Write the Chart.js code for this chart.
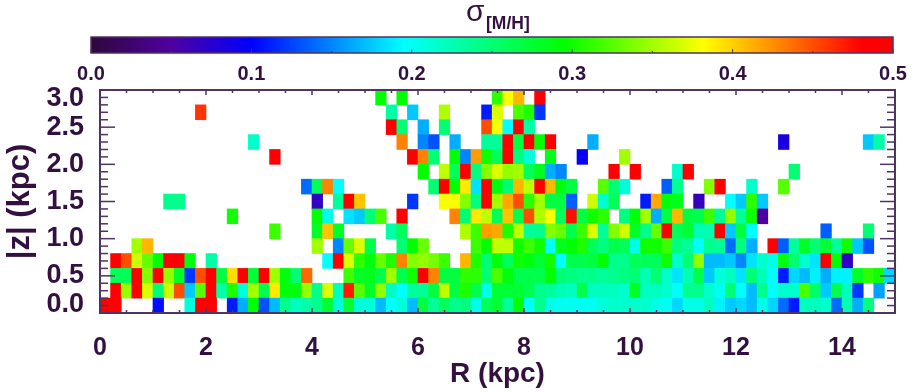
<!DOCTYPE html>
<html>
<head>
<meta charset="utf-8">
<title>sigma [M/H] map</title>
<script src="https://cdn.jsdelivr.net/npm/chart.js@4"></script>
<style>
    html, body { margin: 0; padding: 0; background: #fff; }
    #wrap { position: relative; width: 913px; height: 392px; overflow: hidden; }
    canvas { position: absolute; left: 0; top: 0; filter: blur(0.4px); }
</style>
</head>
<body>
<div id="wrap">
    <canvas id="map-chart" width="913" height="392"></canvas>
    <canvas id="bar-chart" width="913" height="85"></canvas>
</div>
<script>
const _ = null;

// Bins
const rBinCount = 75;
const rBinWidth = 0.2;
const zBinEdges = [0, 0.2, 0.4, 0.6, 0.8, 1, 1.2, 1.4, 1.6, 1.8, 2, 2.2, 2.4, 2.6, 2.8, 3];

// Ticks
const rTickLabels = [0, 2, 4, 6, 8, 10, 12, 14];
const rMinorTicks = [0.5, 1, 1.5, 2.5, 3, 3.5, 4.5, 5, 5.5, 6.5, 7, 7.5, 8.5, 9, 9.5, 10.5, 11, 11.5, 12.5, 13, 13.5, 14.5];
const zTickLabels = [0, 0.5, 1, 1.5, 2, 2.5, 3];
const zMinorTicks = [0.1, 0.2, 0.3, 0.4, 0.6, 0.7, 0.8, 0.9, 1.1, 1.2, 1.3, 1.4, 1.6, 1.7, 1.8, 1.9, 2.1, 2.2, 2.3, 2.4, 2.6, 2.7, 2.8, 2.9];
const sigmaTickLabels = [0, 0.1, 0.2, 0.3, 0.4, 0.5];
const sigmaMinorTicks = [0.05, 0.15, 0.25, 0.35, 0.45];

// Colour table
const sigmaStops = [0, 0.05, 0.1, 0.195, 0.295, 0.382, 0.48, 0.5];
const stopColors = [[46, 8, 58], [80, 0, 160], [0, 0, 255], [0, 255, 255], [0, 255, 0], [255, 255, 0], [255, 0, 0], [255, 0, 0]];

// sigma values, one list per z bin, bottom row first
const zBin00 = [
    .48,.48,_,_,_,.105,_,_,.21,.48,.48,_,.11,.165,.295,.13,.17,.24,.22,.23,.24,.275,.21,.275,.21,
    .21,.17,.195,.21,.17,.27,.235,.26,.24,.245,.205,.26,.275,.235,.295,.195,.24,.205,.2,.2,.2,.2,.21,.215,.215,
    .215,.215,.205,.2,.18,.205,.205,.22,.19,.175,.18,.17,.205,.18,.14,.11,.22,.22,.215,.14,.225,.165,.245,_,_];
const zBin01 = [
    _,.48,.345,.48,.37,.25,.365,.45,.175,.325,.48,.23,.305,.21,.35,.265,.39,.29,.29,.345,.24,.37,.22,.47,.325,
    .28,.345,.22,.195,.235,.235,.27,.36,.27,.305,.265,.205,.275,.275,.275,.265,.24,.235,.225,.22,.265,.22,.22,.22,.215,
    .28,.22,.22,.215,.195,.24,.24,.215,.2,.25,.195,.17,.24,.195,.215,.215,.32,.255,.175,.265,.22,.12,_,.16,_];
const zBin02 = [
    _,.26,.26,.48,.34,.48,.345,.28,.12,.45,.48,.27,.395,.48,.275,.48,.35,.29,.25,.44,_,_,_,.315,.28,
    .285,.265,.35,.265,.3,.48,.43,.27,.27,.31,.31,.25,.32,.29,.265,.265,.265,.295,.25,.245,.24,.24,.235,.24,.245,
    .25,.225,.25,.215,.185,.225,.265,.175,.21,.22,.185,.25,.22,.195,.11,.18,.17,.19,.165,.19,.19,.28,.31,.3,.18];
const zBin03 = [
    _,.48,.45,.365,.33,.295,.48,.48,.29,_,.23,_,_,_,_,_,_,_,_,_,_,.195,.48,.37,.31,
    .29,.33,.305,.43,.34,.345,.335,.315,_,.41,.305,.25,.29,.26,.3,.29,.275,.3,.195,.265,.265,.27,.295,.24,.24,
    .26,.26,.26,.3,.215,.25,.345,.17,.17,.175,.15,.185,.215,.205,.29,.25,.215,.185,.48,.295,.07,_,_,_,_];
const zBin04 = [
    _,_,_,.35,.41,_,_,_,_,_,_,_,_,_,_,_,_,_,_,_,.35,_,.15,.33,.37,
    .265,_,_,.25,.295,.33,_,_,_,_,.315,.295,.36,.36,.3,.315,.3,.195,.285,.295,.305,.26,.245,.265,.26,
    .205,.3,.3,.315,.245,.235,.195,.24,.235,.14,.245,.165,_,.48,.135,.235,.28,.25,.275,.235,.3,.175,.13,_,_];
const zBin05 = [
    _,_,_,_,_,_,_,_,_,_,_,_,_,_,_,_,.315,_,_,_,.28,.405,.28,_,_,
    _,_,.23,.26,_,_,_,_,_,.355,.315,.42,.415,.305,.36,.235,.24,.34,.33,.265,.315,.37,.235,.34,.365,
    .28,.24,.33,.48,.26,.275,.225,.225,.48,.175,.27,.195,_,_,_,_,_,_,.135,_,_,_,.25,_,_];
const zBin06 = [
    _,_,_,_,_,_,_,_,_,_,_,_,.3,_,_,_,_,_,_,_,.295,.205,_,.185,.175,
    .25,.32,_,.48,_,_,_,_,.43,.25,.39,.36,.26,.405,.265,.45,.355,.38,.26,.475,.27,.3,.31,_,.245,
    .29,.35,.165,.27,.41,.27,.265,.315,.235,.345,.235,.3,.05,_,_,_,_,_,_,_,_,_,_,_,_];
const zBin07 = [
    _,_,_,_,_,_,.24,.24,_,_,_,_,_,_,_,_,_,_,_,_,.07,_,.235,.48,.405,
    _,_,_,_,.12,_,_,.38,.38,.34,.245,.48,.35,.415,.45,.31,.35,.27,.27,.135,_,.365,.215,.26,_,
    _,.11,.415,.29,.285,_,.065,_,_,.195,.175,.31,.175,_,_,_,_,_,_,_,_,_,_,_,_];
const zBin08 = [
    _,_,_,_,_,_,_,_,_,_,_,_,_,_,_,_,_,_,_,.14,.26,.43,.195,_,_,
    _,_,_,_,_,_,.25,.48,.295,.39,.185,.48,.29,.25,.41,.36,.48,.41,.29,.27,_,_,.325,.25,.21,
    _,_,_,.135,.24,_,_,.34,.48,_,_,.215,_,_,.325,_,_,_,_,_,_,_,_,_,_];
const zBin09 = [
    _,_,_,_,_,_,_,_,_,_,_,_,_,_,_,_,_,_,_,_,_,_,_,_,_,
    _,_,_,_,_,.295,_,.36,.26,.48,.245,.34,.37,.345,.35,.26,.285,.165,.15,_,_,_,_,.48,_,
    .48,_,_,_,.215,.48,_,_,_,_,_,_,_,_,_,.25,_,_,_,_,_,_,_,_,_];
const zBin10 = [
    _,_,_,_,_,_,_,_,_,_,_,_,_,_,_,_,.48,_,_,_,_,_,_,_,_,
    _,_,_,_,.48,.43,.25,_,.295,.15,.42,.3,.26,.48,.245,.21,_,.285,_,_,.095,_,_,_,.35,
    _,_,_,_,_,_,_,_,_,_,_,_,_,_,_,_,_,_,_,_,_,_,_,_,_];
const zBin11 = [
    _,_,_,_,_,_,_,_,_,_,_,_,_,_,.215,_,_,_,_,_,_,_,_,_,_,
    _,_,_,.43,_,.15,.13,_,.165,_,_,.235,.235,.48,.27,.48,.295,.48,_,_,_,.165,_,_,_,
    _,_,_,_,_,_,_,_,_,_,_,_,_,_,.085,_,_,_,_,_,_,_,.175,.23,_];
const zBin12 = [
    _,_,_,_,_,_,_,_,_,_,_,_,_,_,_,_,_,_,_,_,_,_,_,_,_,
    _,_,.48,.25,_,.165,_,.25,_,_,_,.45,.38,.195,.48,.23,_,_,_,_,_,_,_,_,_,
    _,_,_,_,_,_,_,_,_,_,_,_,_,_,_,_,_,_,_,_,_,_,_,_,_];
const zBin13 = [
    _,_,_,_,_,_,_,_,_,.46,_,_,_,_,_,_,_,_,_,_,_,_,_,_,_,
    _,_,.23,_,.175,_,_,.355,_,_,_,.11,.37,_,.32,.305,.12,_,_,_,_,_,_,_,_,
    _,_,_,_,_,_,_,_,_,_,_,_,_,_,_,_,_,_,_,_,_,_,_,_,_];
const zBin14 = [
    _,_,_,_,_,_,_,_,_,_,_,_,_,_,_,_,_,_,_,_,_,_,_,_,_,
    _,.295,_,.295,_,_,_,_,_,_,_,_,.31,.38,.41,_,.48,_,_,_,_,_,_,_,_,
    _,_,_,_,_,_,_,_,_,_,_,_,_,_,_,_,_,_,_,_,_,_,_,_,_];
const zBins = [zBin00, zBin01, zBin02, zBin03, zBin04, zBin05, zBin06, zBin07, zBin08, zBin09, zBin10, zBin11, zBin12, zBin13, zBin14];

const inkColor = '#32103f';
const frameColor = '#4f3360';
const labelFont = "'Liberation Sans', Arial, sans-serif";

function sigmaColor(value) {
    let i = 0;
    while (i < sigmaStops.length - 2 && value > sigmaStops[i + 1]) i++;
    const t = Math.min(1, (value - sigmaStops[i]) / (sigmaStops[i + 1] - sigmaStops[i]));
    const rgb = stopColors[i].map((c, k) => Math.round(c + (stopColors[i + 1][k] - c) * t));
    return `rgb(${rgb.join(',')})`;
}

// Rows become floating bars, one dataset per z bin
const mapDatasets = zBins.map((row, rowIndex) => {
    const cells = [];
    const colors = [];
    row.forEach((value, col) => {
        if (value === null) return;
        cells.push({ x: rBinWidth * (col + 0.5), y: [zBinEdges[rowIndex], zBinEdges[rowIndex + 1]] });
        colors.push(sigmaColor(value));
    });
    return { data: cells, backgroundColor: colors, borderWidth: 0, grouped: false, barPercentage: 1, categoryPercentage: 1 };
});

function drawTick(ctx, x1, y1, x2, y2) {
    ctx.beginPath();
    ctx.moveTo(x1, y1);
    ctx.lineTo(x2, y2);
    ctx.stroke();
}

// Frame and inward tick marks go on top of the cells
const mapFrame = {
    id: 'mapFrame',
    afterDatasetsDraw(chart) {
        const { ctx, chartArea: a, scales: { x, y } } = chart;
        ctx.save();
        ctx.strokeStyle = frameColor;
        ctx.lineWidth = 1.5;
        zTickLabels.forEach(v => {
            const p = y.getPixelForValue(v);
            drawTick(ctx, a.left, p, a.left + 15, p);
            drawTick(ctx, a.right, p, a.right - 15, p);
        });
        zMinorTicks.forEach(v => {
            const p = y.getPixelForValue(v);
            drawTick(ctx, a.left, p, a.left + 8, p);
            drawTick(ctx, a.right, p, a.right - 8, p);
        });
        rTickLabels.forEach(v => {
            const p = x.getPixelForValue(v);
            drawTick(ctx, p, a.top, p, a.top + 5);
            drawTick(ctx, p, a.bottom, p, a.bottom - 5);
        });
        rMinorTicks.forEach(v => {
            const p = x.getPixelForValue(v);
            drawTick(ctx, p, a.top, p, a.top + 3);
            drawTick(ctx, p, a.bottom, p, a.bottom - 3);
        });
        ctx.lineWidth = 2;
        ctx.strokeRect(a.left, a.top, a.right - a.left, a.bottom - a.top);
        ctx.restore();
    }
};

new Chart(document.getElementById('map-chart'), {
    type: 'bar',
    data: { datasets: mapDatasets },
    options: {
        responsive: false,
        animation: false,
        layout: { padding: { top: 90, right: 18, left: 0, bottom: 0 } },
        plugins: { legend: { display: false }, tooltip: { enabled: false } },
        scales: {
            x: {
                type: 'linear',
                offset: false,
                min: 0,
                max: 15,
                grid: { display: false },
                border: { display: false },
                afterBuildTicks: scale => { scale.ticks = rTickLabels.map(v => ({ value: v })); },
                afterFit: scale => { scale.height = 79; },
                ticks: {
                    autoSkip: false,
                    maxRotation: 0,
                    padding: 12,
                    color: inkColor,
                    font: { family: labelFont, weight: 'bold', size: 25 }
                },
                title: {
                    display: true,
                    text: 'R (kpc)',
                    color: inkColor,
                    padding: { top: 0, bottom: 1 },
                    font: { family: labelFont, weight: 'bold', size: 28 }
                }
            },
            y: {
                type: 'linear',
                min: 0,
                max: 3,
                grid: { display: false },
                border: { display: false },
                afterBuildTicks: scale => { scale.ticks = zTickLabels.map(v => ({ value: v })); },
                afterFit: scale => { scale.width = 100; },
                ticks: {
                    autoSkip: false,
                    padding: 8,
                    color: inkColor,
                    font: { family: labelFont, weight: 'bold', size: 27, lineHeight: 0.6 },
                    // end labels sit inside the axis range
                    callback: value => {
                        const text = value.toFixed(1);
                        if (value === 3) return ['', text];
                        if (value === 0) return [text, ''];
                        return text;
                    }
                },
                title: {
                    display: true,
                    text: '|z| (kpc)',
                    color: inkColor,
                    padding: { top: 2, bottom: 0 },
                    font: { family: labelFont, weight: 'bold', size: 31 }
                }
            }
        }
    },
    plugins: [mapFrame]
});

// Colour bar
function barGradient(context) {
    const { chart } = context;
    const x = chart.scales.x;
    if (!chart.chartArea || !x) return sigmaColor(0);
    const g = chart.ctx.createLinearGradient(x.getPixelForValue(0), 0, x.getPixelForValue(0.5), 0);
    sigmaStops.forEach(s => g.addColorStop(s / 0.5, sigmaColor(s)));
    return g;
}

const barFrame = {
    id: 'barFrame',
    afterDatasetsDraw(chart) {
        const { ctx, chartArea: a, scales: { x } } = chart;
        ctx.save();
        ctx.strokeStyle = frameColor;
        ctx.lineWidth = 1;
        sigmaTickLabels.forEach(v => {
            const p = x.getPixelForValue(v);
            drawTick(ctx, p, a.bottom, p, a.bottom - 4);
        });
        sigmaMinorTicks.forEach(v => {
            const p = x.getPixelForValue(v);
            drawTick(ctx, p, a.bottom, p, a.bottom - 2);
        });
        ctx.lineWidth = 1.5;
        ctx.strokeRect(a.left, a.top, a.right - a.left, a.bottom - a.top);

        // title with subscript
        ctx.fillStyle = inkColor;
        ctx.textBaseline = 'alphabetic';
        ctx.textAlign = 'left';
        ctx.font = `30px ${labelFont}`;
        ctx.fillText('σ', 466, 21);
        ctx.font = `bold 17.5px ${labelFont}`;
        ctx.fillText('[M/H]', 486, 29);
        ctx.restore();
    }
};

new Chart(document.getElementById('bar-chart'), {
    type: 'bar',
    data: {
        labels: ['sigma'],
        datasets: [{ data: [[sigmaTickLabels[0], sigmaTickLabels[5]]], backgroundColor: barGradient, borderWidth: 0, barPercentage: 1, categoryPercentage: 1 }]
    },
    options: {
        indexAxis: 'y',
        responsive: false,
        animation: false,
        layout: { padding: { top: 37, right: 20, left: 91, bottom: 0 } },
        plugins: { legend: { display: false }, tooltip: { enabled: false } },
        scales: {
            x: {
                type: 'linear',
                min: 0,
                max: 0.5,
                grid: { display: false },
                border: { display: false },
                afterBuildTicks: scale => { scale.ticks = sigmaTickLabels.map(v => ({ value: v })); },
                afterFit: scale => { scale.height = 32; },
                ticks: {
                    autoSkip: false,
                    maxRotation: 0,
                    padding: 1,
                    color: inkColor,
                    font: { family: labelFont, weight: 'bold', size: 20 },
                    callback: value => value.toFixed(1)
                }
            },
            y: { display: false }
        }
    },
    plugins: [barFrame]
});
</script>
</body>
</html>
